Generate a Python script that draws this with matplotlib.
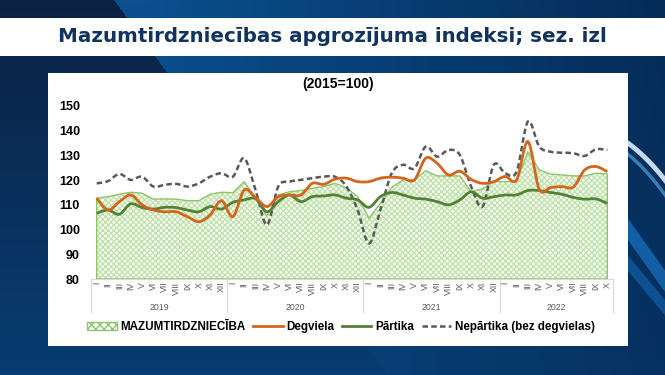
import numpy as np
import matplotlib
matplotlib.use("Agg")
import matplotlib.pyplot as plt
from matplotlib.path import Path
from matplotlib.patches import PathPatch, Patch, Rectangle
from matplotlib.lines import Line2D
import matplotlib.transforms as mtransforms

# --- data (2015=100), months I.2019 .. X.2022 ---
years = ["2019", "2020", "2021", "2022"]
months_per_year = [12, 12, 12, 10]
month_names = ["I", "II", "III", "IV", "V", "VI", "VII", "VIII", "IX", "X", "XI", "XII"]

retail = [112.7, 113.3, 114.3, 115.1, 114.7, 112.3, 112.4, 112.3, 111.7, 111.7, 114.3, 115.1,
          114.9, 119.4, 112.7, 105.5, 114.0, 115.3, 115.8, 116.7, 117.4, 118.7, 116.9, 113.3,
          104.6, 110.6, 117.1, 120.1, 120.1, 123.8, 121.7, 121.7, 121.7, 115.3, 116.5, 119.4,
          119.4, 119.4, 131.5, 124.1, 122.5, 122.1, 121.7, 121.7, 122.8, 122.5]
fuel = [112.7, 107.9, 111.3, 114.0, 110.0, 107.9, 107.2, 107.2, 105.2, 103.2, 105.9, 111.7,
        105.2, 116.0, 113.0, 109.3, 113.3, 114.0, 114.0, 118.7, 118.3, 120.4, 120.8, 119.4,
        119.4, 120.8, 121.2, 120.8, 120.1, 128.9, 126.8, 122.1, 123.6, 120.3, 118.7, 119.4,
        121.5, 120.1, 135.6, 116.3, 117.0, 117.4, 117.2, 124.1, 125.5, 123.4]
food = [106.6, 107.9, 106.2, 110.4, 108.9, 108.3, 109.0, 108.9, 107.9, 107.2, 109.3, 108.3,
        111.0, 112.0, 112.5, 107.2, 111.3, 114.0, 111.3, 113.3, 113.6, 114.0, 112.7, 112.0,
        109.0, 113.3, 115.0, 114.0, 112.7, 112.3, 111.3, 110.0, 112.0, 115.3, 112.7, 113.3,
        114.0, 114.0, 115.8, 115.8, 115.0, 114.3, 113.0, 112.3, 112.4, 110.6]
nonfood = [118.7, 119.6, 122.5, 120.1, 121.4, 117.4, 118.1, 118.5, 117.4, 118.7, 121.4, 122.8,
           121.4, 128.9, 116.0, 101.9, 117.4, 119.4, 120.1, 120.8, 121.4, 121.4, 117.5, 107.9,
           94.4, 107.9, 122.8, 126.2, 124.8, 133.6, 129.5, 132.2, 130.2, 117.4, 109.3, 126.2,
           122.8, 123.4, 143.7, 133.6, 131.5, 131.1, 130.9, 129.8, 132.5, 132.2]

labels = ["MAZUMTIRDZNIECĪBA", "Degviela", "Pārtika", "Nepārtika (bez degvielas)"]

C_ORANGE = "#d5651c"
C_GREEN = "#548235"
C_GRAY = "#595959"
C_AREA = "#8cc56a"
C_HATCH = "#bfe2a9"

W, H = 665, 375
fig = plt.figure(figsize=(W / 100, H / 100), dpi=100)

# --- slide background ---
bg = fig.add_axes([0, 0, 1, 1])
bg.set_xlim(0, W)
bg.set_ylim(H, 0)
bg.axis("off")
yy, xx = np.mgrid[0:H, 0:W]
dark_top = np.array([0.04, 0.13, 0.26])
dark_bot = np.array([0.03, 0.24, 0.45])
light = np.array([0.04, 0.31, 0.56])
right = np.array([0.02, 0.17, 0.34])
t = (yy / H)[..., None]
dark = dark_top * (1 - t) + dark_bot * t
fx = np.clip((xx - 150) / 515, 0, 1)[..., None]
lite = light * (1 - fx) + right * fx
lite = lite * (1 - 0.35 * t) + dark_bot * 0.35 * t
mask = (xx < 114 + 0.73 * yy)[..., None]
img = np.where(mask, dark, lite)
bg.imshow(img, extent=(0, W, H, 0), aspect="auto", zorder=0)
# swoosh on the right
sx = np.linspace(600, 670, 50)
bg.plot(sx, 137 + 0.0075 * (sx - 600) ** 2 + (sx - 627) * 0.3, color="#dbeeff", lw=3.5, alpha=0.9, zorder=1)
bg.plot(sx, 148 + 0.0075 * (sx - 600) ** 2 + (sx - 627) * 0.4, color="#5fb0f0", lw=2.5, alpha=0.6, zorder=1)
bg.plot(sx, 228 + (sx - 627) * 1.4, color="#1f86e0", lw=9, alpha=0.55, zorder=1)
bg.plot(sx, 262 + (sx - 627) * 1.2, color="#1a7ad2", lw=7, alpha=0.45, zorder=1)

bg.add_patch(Rectangle((0, 18), W, 38, facecolor="white", edgecolor="none", zorder=2))
bg.add_patch(Rectangle((48, 73), 580, 273, facecolor="white", edgecolor="none", zorder=2))
bg.text(332, 37, "Mazumtirdzniecības apgrozījuma indeksi; sez. izl", ha="center", va="center",
        fontsize=14.3, fontweight="bold", color="#10345f", family="DejaVu Sans", zorder=3)
bg.text(338, 84, "(2015=100)", ha="center", va="center", fontsize=10, fontweight="bold",
        color="black", family="Liberation Sans", zorder=3)

# --- chart ---
ax = fig.add_axes([91 / W, 1 - 279 / H, 522 / W, 173 / H])
ax.patch.set_alpha(0)
n = len(retail)
x = np.arange(n)
ax.set_xlim(-0.5, n - 0.5)
ax.set_ylim(80, 150)

ax.fill_between(x, 80, retail, facecolor="white", hatch="xxxxxx", edgecolor=C_HATCH, linewidth=0, zorder=1)
ax.fill_between(x, 80, retail, facecolor="none", edgecolor=C_AREA, linewidth=1.0, zorder=2)


def smooth(xs, ys):
    pts = np.column_stack([xs, ys]).astype(float)
    verts = [pts[0]]
    codes = [Path.MOVETO]
    m = len(pts)
    for i in range(m - 1):
        p0 = pts[i - 1] if i > 0 else pts[i]
        p1, p2 = pts[i], pts[i + 1]
        p3 = pts[i + 2] if i + 2 < m else pts[i + 1]
        verts += [p1 + (p2 - p0) / 6, p2 - (p3 - p1) / 6, p2]
        codes += [Path.CURVE4] * 3
    return Path(verts, codes)


ax.add_patch(PathPatch(smooth(x, nonfood), fill=False, edgecolor=C_GRAY, lw=1.8,
                       linestyle=(0, (2.2, 1.3)), zorder=3))
ax.add_patch(PathPatch(smooth(x, food), fill=False, edgecolor=C_GREEN, lw=2.0, zorder=4))
ax.add_patch(PathPatch(smooth(x, fuel), fill=False, edgecolor=C_ORANGE, lw=2.0, zorder=5))

for s in ["top", "right", "left"]:
    ax.spines[s].set_visible(False)
ax.spines["bottom"].set_color("#d9d9d9")
ax.set_yticks(np.arange(80, 151, 10))
ax.tick_params(axis="y", length=0, pad=8)
for lab in ax.get_yticklabels():
    lab.set_fontweight("bold")
    lab.set_fontsize(9)
    lab.set_family("Liberation Sans")

tick_labels = []
for m in months_per_year:
    tick_labels += month_names[:m]
ax.set_xticks(x)
ax.set_xticklabels(tick_labels, rotation=90, fontsize=6.3, color=C_GRAY, family="Liberation Sans")
ax.tick_params(axis="x", length=0, pad=2)

trans = mtransforms.blended_transform_factory(ax.transData, ax.transAxes)
bounds = np.concatenate([[0], np.cumsum(months_per_year)]) - 0.5
for b in bounds:
    ax.plot([b, b], [0, -0.19], color="#d9d9d9", lw=0.8, transform=trans, clip_on=False)
for i, yr in enumerate(years):
    ax.text((bounds[i] + bounds[i + 1]) / 2, -0.162, yr, transform=trans, ha="center", va="center",
            fontsize=6.3, color=C_GRAY, family="Liberation Sans")

handles = [Patch(facecolor="white", edgecolor=C_AREA, hatch="xxxx", lw=1.0),
           Line2D([], [], color=C_ORANGE, lw=2.0),
           Line2D([], [], color=C_GREEN, lw=2.0),
           Line2D([], [], color=C_GRAY, lw=1.8, linestyle=(0, (2.2, 1.3)))]
fig.legend(handles, labels, loc="center", bbox_to_anchor=(341 / W, 1 - 327 / H), ncol=4, frameon=False,
           prop={"family": "Liberation Sans", "weight": "bold", "size": 8.4},
           handlelength=2.5, handleheight=0.6, handletextpad=0.3, columnspacing=0.7)

fig.savefig("out.png", dpi=100)
